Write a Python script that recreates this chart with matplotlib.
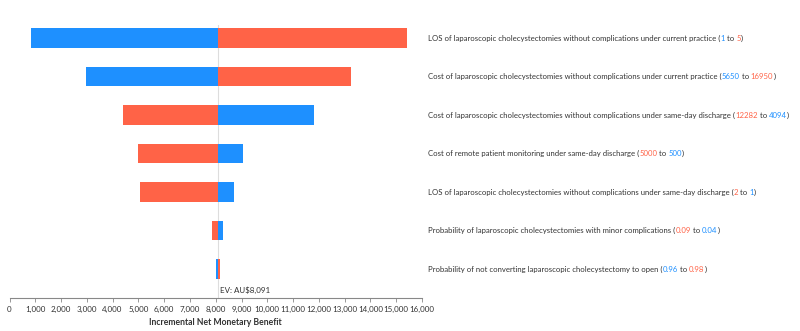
import matplotlib.pyplot as plt
import numpy as np

plt.rcParams['font.family'] = ['Lato', 'DejaVu Sans']

BLUE = '#1E90FF'
RED = '#FF6347'
TXT = '#333333'
FS = 5.6

# Expected value of the incremental net monetary benefit
ev = 8091

# Parameter names (top to bottom)
params = [
    "LOS of laparoscopic cholecystectomies without complications under current practice",
    "Cost of laparoscopic cholecystectomies without complications under current practice",
    "Cost of laparoscopic cholecystectomies without complications under same-day discharge",
    "Cost of remote patient monitoring under same-day discharge",
    "LOS of laparoscopic cholecystectomies without complications under same-day discharge",
    "Probability of laparoscopic cholecystectomies with minor complications",
    "Probability of not converting laparoscopic cholecystectomy to open",
]
# Parameter range shown in the label: (first, second) and their colours
range_first = ["1", "5650", "12282", "5000", "2", "0.09", "0.96"]
range_second = ["5", "16950", "4094", "500", "1", "0.04", "0.98"]
first_is_blue = [True, True, False, False, False, False, True]

# INMB at the blue and red ends of each bar
blue_end = [815, 2967, 11823, 9057, 8720, 8293, 8010]
red_end = [15407, 13258, 4391, 4985, 5050, 7855, 8177]

fig = plt.figure(figsize=(8, 3.31), dpi=100)
ax = fig.add_axes([9.5 / 800, (331 - 298) / 331, 412.5 / 800, (298 - 25) / 331])

y = np.arange(len(params))
ax.barh(y, np.array(blue_end) - ev, left=ev, height=0.5, color=BLUE)
ax.barh(y, np.array(red_end) - ev, left=ev, height=0.5, color=RED)
ax.axvline(ev, color='#dddddd', lw=0.8, zorder=0)

ax.set_xlim(0, 16000)
ax.set_ylim(6.75, -0.34)
ax.set_xticks(np.arange(0, 16001, 1000))
ax.set_xticklabels([f"{v:,}" for v in range(0, 16001, 1000)], fontsize=5.8, color=TXT)
ax.set_yticks([])
for s in ['top', 'right', 'left']:
    ax.spines[s].set_visible(False)
ax.spines['bottom'].set_color('#888888')
ax.spines['bottom'].set_linewidth(0.8)
ax.tick_params(axis='x', length=3, width=0.6, color='#888888', pad=3)
ax.set_xlabel("Incremental Net Monetary Benefit", fontsize=6.2, fontweight='bold', color=TXT, labelpad=3)

ax.text(ev + 80, 6.56, "EV: AU$8,091", fontsize=5.8, color=TXT, va='center', ha='left')

# Labels with coloured range values, each piece placed after the width of the text before it
fig.canvas.draw()
renderer = fig.canvas.get_renderer()


def text_width(s):
    # width of s, measured with a sentinel so trailing spaces count
    t1 = fig.text(0, 0, s + "x", fontsize=FS)
    t2 = fig.text(0, 0, "x", fontsize=FS)
    w = t1.get_window_extent(renderer).width - t2.get_window_extent(renderer).width
    t1.remove()
    t2.remove()
    return w


for i in range(len(params)):
    c1 = BLUE if first_is_blue[i] else RED
    c2 = RED if first_is_blue[i] else BLUE
    ypix = ax.transData.transform((0, i))[1]
    pieces = [(params[i] + " (", TXT), (range_first[i], c1), (" to ", TXT),
              (range_second[i], c2), (")", TXT)]
    prefix = ""
    for s, c in pieces:
        xpix = 428.0 + (text_width(prefix) if prefix else 0)
        fig.text(xpix / 800, ypix / 331, s, fontsize=FS, color=c, va='center', ha='left')
        prefix += s

fig.savefig("out.png", dpi=100)
